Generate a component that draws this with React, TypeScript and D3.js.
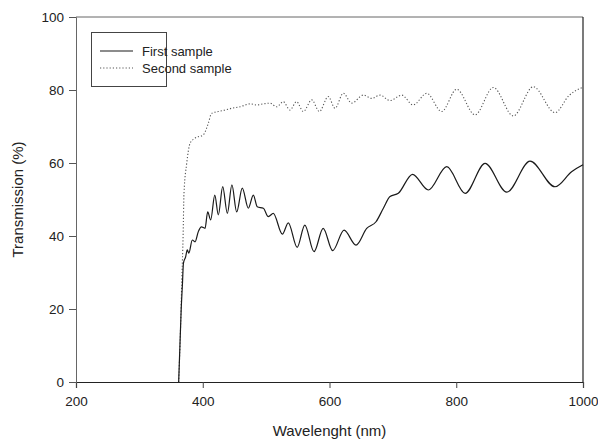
import React, { useRef, useEffect } from 'react';
import * as d3 from 'd3';

// first sample (solid line)
const firstWl = [362, 364, 366, 368, 369.5, 373, 375.6, 378, 383.5, 387.8, 393, 398, 403.6, 407.8, 412.5, 419, 424.6, 431.5, 438.8, 446, 453.5, 462.4, 471.9, 479.8, 486, 495.6, 503.5, 511.3, 525.6, 535, 549, 561, 575.6, 590, 605, 623, 641.8, 658.7, 673.4, 685, 695.5, 708.6, 731, 756, 785, 814, 845.5, 879.7, 916.4, 955.8, 982, 1000];
const firstT = [0, 10, 20, 27, 32.5, 34.3, 36.2, 35.3, 38.9, 38.4, 41.2, 42.5, 42.1, 46.6, 44.4, 51.2, 45.8, 53.5, 46.2, 54, 46.6, 53.1, 47.6, 51.2, 48, 47.6, 45.3, 46.2, 40.5, 43.6, 36.9, 43, 35.7, 42.1, 36, 41.6, 37.5, 42.1, 43.9, 47.6, 50.8, 51.7, 56.9, 52.6, 59, 51.7, 59.9, 52, 60.5, 53.5, 57.6, 59.5];

// second sample (dotted line)
const secondWl = [362, 365, 367, 369, 370.4, 374.7, 380, 387.8, 400.9, 408.8, 414, 424.6, 435, 445.7, 458.8, 474.6, 485, 496, 506, 516.7, 527, 537.7, 548, 558.7, 572, 584, 598, 608.7, 621.8, 635, 653.4, 666.6, 679.7, 695.5, 714, 732, 753.4, 777, 800.7, 829.6, 858.5, 890, 921.6, 955.8, 978, 1000];
const secondT = [0, 15, 28, 40, 51.7, 59.9, 65.4, 66.8, 67.7, 70.9, 73.6, 74.1, 74.5, 75, 75.4, 76.2, 75.9, 76.2, 76.4, 75.4, 76.8, 74.5, 76.8, 74.1, 77.3, 74.1, 78.2, 75, 79.1, 76.4, 78.6, 77.7, 78.6, 77.1, 78.6, 75.9, 79.1, 74.1, 80.2, 73.2, 80.7, 72.9, 80.9, 73.8, 78.5, 80.8];

const xTicks = [200, 400, 600, 800, 1000];
const yTicks = [0, 20, 40, 60, 80, 100];
const legendLabels = ["First sample", "Second sample"];

const W = 598;
const H = 441;
const margin = { top: 17, right: 15, bottom: 59, left: 76 };
const FONT = "Arial, 'Liberation Sans', sans-serif";

function TransmissionChart() {
    const svgRef = useRef<SVGSVGElement>(null);

    useEffect(() => {
        const svg = d3.select(svgRef.current);
        svg.selectAll("*").remove();

        const x = d3.scaleLinear().domain([200, 1000]).range([margin.left, W - margin.right]);
        const y = d3.scaleLinear().domain([0, 100]).range([H - margin.bottom, margin.top]);

        svg.append("rect").attr("width", W).attr("height", H).attr("fill", "#fff");

        // frame: top and right
        svg.append("line")
            .attr("x1", x(200)).attr("x2", x(1000))
            .attr("y1", y(100)).attr("y2", y(100))
            .attr("stroke", "#666").attr("stroke-width", 1);
        svg.append("line")
            .attr("x1", x(1000)).attr("x2", x(1000))
            .attr("y1", y(100)).attr("y2", y(0))
            .attr("stroke", "#222").attr("stroke-width", 1.2);

        const xAxis = svg.append("g")
            .attr("transform", `translate(0, ${y(0)})`)
            .call(d3.axisBottom(x).tickValues(xTicks).tickSize(6).tickPadding(8).tickFormat(d3.format("d")));
        xAxis.select(".domain").attr("stroke", "#222").attr("stroke-width", 1.2);
        xAxis.selectAll(".tick line").attr("stroke", "#444");
        xAxis.selectAll("text").attr("font-family", FONT).attr("font-size", 13.5).attr("fill", "#222");

        const yAxis = svg.append("g")
            .attr("transform", `translate(${x(200)}, 0)`)
            .call(d3.axisLeft(y).tickValues(yTicks).tickSize(7).tickPadding(5).tickFormat(d3.format("d")));
        yAxis.select(".domain").attr("stroke", "#666").attr("stroke-width", 1);
        yAxis.selectAll(".tick line").attr("stroke", "#555");
        yAxis.selectAll("text").attr("font-family", FONT).attr("font-size", 13.5).attr("fill", "#222");

        const line = d3.line<[number, number]>()
            .x(d => x(d[0]))
            .y(d => y(d[1]))
            .curve(d3.curveMonotoneX);

        const second = secondWl.map((w, i) => [w, secondT[i]] as [number, number]);
        const first = firstWl.map((w, i) => [w, firstT[i]] as [number, number]);

        svg.append("path")
            .attr("d", line(second))
            .attr("fill", "none")
            .attr("stroke", "#555")
            .attr("stroke-width", 1.1)
            .attr("stroke-dasharray", "1.2,2");

        svg.append("path")
            .attr("d", line(first))
            .attr("fill", "none")
            .attr("stroke", "#1a1a1a")
            .attr("stroke-width", 1.2);

        // axis titles
        svg.append("text")
            .attr("x", (x(200) + x(1000)) / 2)
            .attr("y", 436)
            .attr("text-anchor", "middle")
            .attr("font-family", FONT)
            .attr("font-size", 15)
            .attr("fill", "#222")
            .text("Wavelenght (nm)");

        svg.append("text")
            .attr("transform", `translate(23, ${(y(0) + y(100)) / 2}) rotate(-90)`)
            .attr("text-anchor", "middle")
            .attr("font-family", FONT)
            .attr("font-size", 15)
            .attr("fill", "#222")
            .text("Transmission (%)");

        // legend
        const lg = svg.append("g");
        lg.append("rect")
            .attr("x", 91.5).attr("y", 32.5)
            .attr("width", 75).attr("height", 54)
            .attr("fill", "#fff").attr("stroke", "#444").attr("stroke-width", 1);
        legendLabels.forEach((label, i) => {
            const ly = 51 + i * 17;
            lg.append("line")
                .attr("x1", 100).attr("x2", 133)
                .attr("y1", ly).attr("y2", ly)
                .attr("stroke", i === 0 ? "#1a1a1a" : "#555")
                .attr("stroke-width", 1.1)
                .attr("stroke-dasharray", i === 0 ? null : "1.2,2");
            lg.append("text")
                .attr("x", 142)
                .attr("y", ly + 4.5)
                .attr("font-family", FONT)
                .attr("font-size", 13)
                .attr("fill", "#222")
                .text(label);
        });
    }, []);

    return (
        <svg
            ref={svgRef}
            width={W}
            height={H}
            style={{ position: "absolute", left: 0, top: 0, display: "block" }}
        />
    );
}

export default function App() {
    return <TransmissionChart />;
}
